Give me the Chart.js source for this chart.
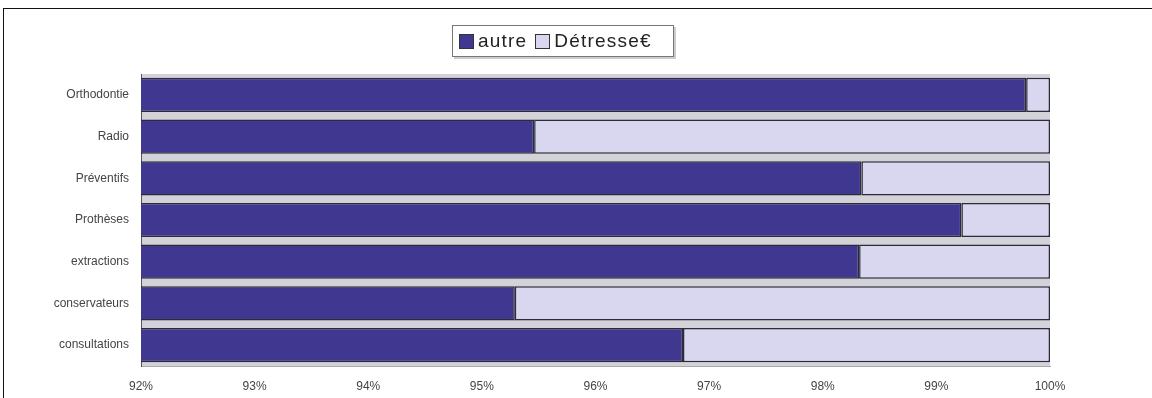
<!DOCTYPE html>
<html>
<head>
<meta charset="utf-8">
<script src="https://cdn.jsdelivr.net/npm/chart.js@4"></script>
<style>
    body { margin: 0; background: #fff; }
    #wrap { position: relative; width: 1152px; height: 398px; overflow: hidden; }
    #frame { position: absolute; left: 3px; top: 8px; width: 1200px; height: 420px; border: 1.5px solid #111; }
    #legend { position: absolute; left: 452px; top: 25px; width: 222px; height: 32px; box-sizing: border-box; padding: 0 4px;
        border: 1px solid #777; box-shadow: 2px 2px 0 #ccc; background: #fff; display: flex; align-items: center;
        font-family: "Liberation Sans", Arial, sans-serif; font-size: 19px; letter-spacing: 1.2px; color: #222; }
    #legend span.box { display: inline-block; width: 13px; height: 13px; border: 1px solid #333; margin: 0 4px 0 2px; }
    #legend span.txt { margin-right: 6px; }
    canvas { position: absolute; left: 0; top: 0; }
</style>
</head>
<body>
<div id="wrap">
    <div id="frame"></div>
    <canvas id="chart" width="1152" height="398"></canvas>
    <div id="legend"></div>
</div>
<script>
const categories = ['Orthodontie', 'Radio', 'Préventifs', 'Prothèses', 'extractions', 'conservateurs', 'consultations'];
const autreValues = [99.79, 95.46, 98.34, 99.22, 98.32, 95.29, 96.77];
const detresseValues = [0.21, 4.54, 1.66, 0.78, 1.68, 4.71, 3.23];
const seriesNames = ['autre', 'Détresse€'];
const seriesColors = ['#3f3790', '#d9d7ef'];

document.addEventListener('DOMContentLoaded', () => {
    const legend = document.getElementById('legend');
    seriesNames.forEach((name, i) => {
        legend.innerHTML += `<span class="box" style="background:${seriesColors[i]}"></span><span class="txt">${name}</span>`;
    });

    // light grey behind the bars, like the gaps in the original
    const plotBackground = {
        id: 'plotBackground',
        beforeDraw(chart) {
            const { ctx, chartArea } = chart;
            ctx.save();
            ctx.fillStyle = '#d2d2d8';
            ctx.fillRect(chartArea.left, chartArea.top, chartArea.right - chartArea.left, chartArea.bottom - chartArea.top);
            ctx.restore();
        }
    };

    const ctx = document.getElementById('chart').getContext('2d');
    new Chart(ctx, {
        type: 'bar',
        data: {
            labels: categories,
            datasets: [autreValues, detresseValues].map((data, i) => ({
                label: seriesNames[i],
                data: data,
                backgroundColor: seriesColors[i],
                borderColor: '#2b2b3b',
                borderWidth: 1.5,
                borderSkipped: false,
                barPercentage: 0.82,
                categoryPercentage: 1
            }))
        },
        options: {
            indexAxis: 'y',
            responsive: false,
            animation: false,
            layout: { padding: { left: 0, right: 102, top: 74, bottom: 0 } },
            scales: {
                x: {
                    stacked: true,
                    min: 92,
                    max: 100,
                    afterFit: s => { s.height = 32; },
                    grid: { display: false, drawTicks: false },
                    border: { display: true, color: '#aaa' },
                    ticks: {
                        stepSize: 1,
                        padding: 13,
                        color: '#444',
                        font: { family: 'Liberation Sans', size: 12 },
                        callback: v => v + '%'
                    }
                },
                y: {
                    stacked: true,
                    afterFit: s => { s.width = 141; },
                    grid: { display: false, drawTicks: false },
                    border: { display: true, color: '#555' },
                    ticks: {
                        padding: 12,
                        color: '#444',
                        font: { family: 'Liberation Sans', size: 12 }
                    }
                }
            },
            plugins: {
                legend: { display: false },
                tooltip: { enabled: false }
            }
        },
        plugins: [plotBackground]
    });
});
</script>
</body>
</html>
